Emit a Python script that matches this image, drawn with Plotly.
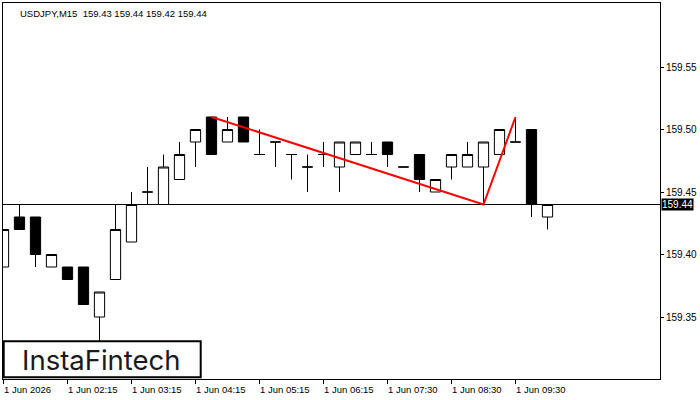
import plotly.graph_objects as go

# ---- data (USDJPY, M15) ----
bar_index = list(range(35))
opens  = [159.39, 159.43, 159.43, 159.39, 159.39, 159.39, 159.35, 159.38, 159.41, 159.45,
          159.44, 159.46, 159.49, 159.51, 159.49, 159.51, 159.48, 159.49, 159.48, 159.47,
          159.48, 159.47, 159.48, 159.48, 159.49, 159.47, 159.48, 159.45, 159.47, 159.47,
          159.47, 159.48, 159.49, 159.50, 159.43]
highs  = [159.42, 159.44, 159.43, 159.40, 159.39, 159.39, 159.37, 159.44, 159.45, 159.47,
          159.48, 159.49, 159.50, 159.51, 159.51, 159.51, 159.50, 159.49, 159.48, 159.48,
          159.49, 159.49, 159.49, 159.49, 159.49, 159.47, 159.48, 159.46, 159.48, 159.49,
          159.49, 159.50, 159.51, 159.50, 159.44]
lows   = [159.39, 159.42, 159.39, 159.39, 159.38, 159.36, 159.33, 159.38, 159.41, 159.44,
          159.44, 159.46, 159.47, 159.48, 159.49, 159.49, 159.48, 159.47, 159.46, 159.45,
          159.47, 159.45, 159.48, 159.48, 159.47, 159.47, 159.45, 159.45, 159.46, 159.47,
          159.44, 159.48, 159.49, 159.43, 159.42]
closes = [159.42, 159.42, 159.40, 159.40, 159.38, 159.36, 159.37, 159.42, 159.44, 159.45,
          159.47, 159.48, 159.50, 159.48, 159.50, 159.49, 159.48, 159.49, 159.48, 159.47,
          159.48, 159.49, 159.49, 159.48, 159.48, 159.47, 159.46, 159.46, 159.48, 159.48,
          159.49, 159.50, 159.49, 159.44, 159.44]

tick_index = [0, 4, 8, 12, 16, 20, 24, 28, 32]
tick_labels = ["1 Jun 2026", "1 Jun 02:15", "1 Jun 03:15", "1 Jun 04:15", "1 Jun 05:15",
               "1 Jun 06:15", "1 Jun 07:30", "1 Jun 08:30", "1 Jun 09:30"]
price_ticks = [159.35, 159.40, 159.45, 159.50, 159.55]

# pattern points: (bar index, which price)
pattern_idx = [13, 30, 32]
pattern_px = [highs[13], lows[30], highs[32]]

symbol = "USDJPY,M15"

FONT = "Liberation Sans"

fig = go.Figure()
fig.add_trace(go.Candlestick(
    x=bar_index, open=opens, high=highs, low=lows, close=closes,
    increasing=dict(fillcolor="white", line=dict(color="black", width=1)),
    decreasing=dict(fillcolor="black", line=dict(color="black", width=1)),
    whiskerwidth=0, hoverinfo="skip", showlegend=False,
))
fig.add_trace(go.Scatter(
    x=pattern_idx, y=pattern_px, mode="lines",
    line=dict(color="#ff0000", width=2), hoverinfo="skip", showlegend=False,
))

x0 = -0.5 / 16
x1 = x0 + 657 / 16
last = closes[-1]
y_top = last + (204.5 - 3) / 1250
y_bot = last - (379 - 204.5) / 1250

fig.update_layout(
    width=700, height=400,
    margin=dict(l=3, r=40, t=3, b=21, pad=0),
    paper_bgcolor="white", plot_bgcolor="white",
    boxgap=0.36, boxgroupgap=0,
    hovermode=False,
    showlegend=False,
    xaxis=dict(range=[x0, x1], showgrid=False, zeroline=False, showline=True,
               linecolor="black", linewidth=1, mirror=True,
               ticks="outside", ticklen=4, tickcolor="black", tickwidth=1,
               tickvals=tick_index, showticklabels=False,
               rangeslider=dict(visible=False), fixedrange=True),
    yaxis=dict(range=[y_bot, y_top], side="right", showgrid=False, zeroline=False,
               showline=True, linecolor="black", linewidth=1, mirror=True,
               ticks="outside", ticklen=3, tickcolor="black", tickwidth=1,
               tickvals=price_ticks, tickformat=".2f",
               tickfont=dict(family=FONT, size=10, color="black"), fixedrange=True),
)

# current price line and label
fig.add_shape(type="line", xref="paper", x0=0, x1=1, yref="y", y0=last, y1=last,
              line=dict(color="black", width=1), layer="below")
fig.add_annotation(xref="paper", x=1, xanchor="left", xshift=1, yref="y", y=last,
                   yanchor="middle", text=f"{last:.2f}", showarrow=False,
                   bgcolor="black", borderpad=0,
                   font=dict(family=FONT, size=10, color="white"))

# x tick labels (left-aligned at ticks)
for xi, lab in zip(tick_index, tick_labels):
    fig.add_annotation(xref="x", x=xi, xanchor="left", xshift=-2, yref="paper", y=0,
                       yanchor="top", yshift=-3, text=lab, showarrow=False,
                       font=dict(family=FONT, size=9.5, color="black"))

# title
fig.add_annotation(xref="paper", x=(18 - 3) / 657, xanchor="left", yref="paper", y=1,
                   yanchor="top", yshift=-3,
                   text=f"{symbol}&nbsp;&nbsp;{opens[-1]:.2f} {highs[-1]:.2f} {lows[-1]:.2f} {closes[-1]:.2f}",
                   showarrow=False, font=dict(family=FONT, size=9.5, color="black"))

# logo box
fig.add_shape(type="rect", xref="paper", yref="paper",
              x0=(3.7 - 3) / 657, x1=(200.7 - 3) / 657,
              y0=(379 - 377.2) / 376, y1=(379 - 341.2) / 376,
              line=dict(color="black", width=2), fillcolor="white", layer="above")
fig.add_annotation(xref="paper", yref="paper", x=(101.8 - 3) / 657, y=(379 - 360) / 376,
                   xanchor="center", yanchor="middle", text="InstaFintech",
                   showarrow=False, font=dict(family="Inter", size=27.5, color="#1a1a1a"))

fig.write_html("out.html")
